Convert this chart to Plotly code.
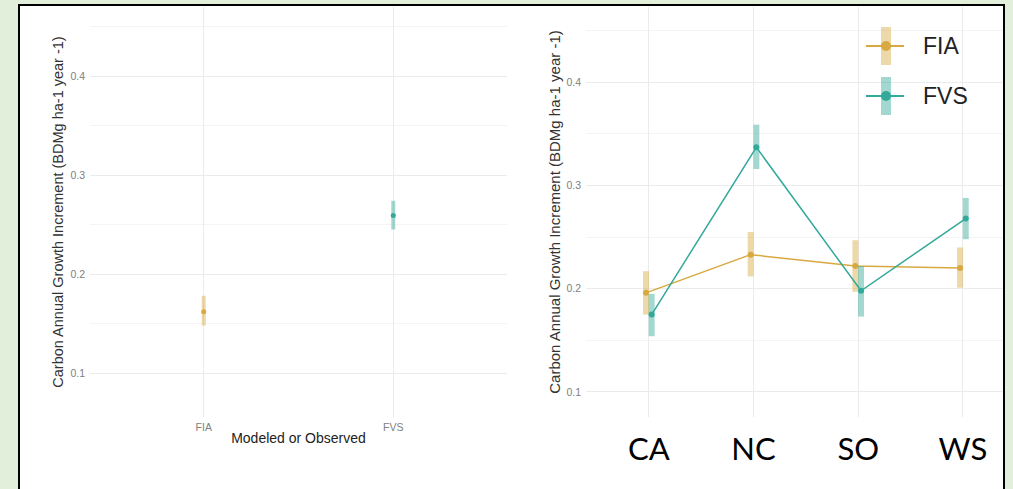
import plotly.graph_objects as go

W, H = 1013, 489

# ---- data ----
left_groups = ["FIA", "FVS"]
left_mean = [0.162, 0.259]
left_low = [0.148, 0.245]
left_high = [0.178, 0.274]

regions = ["CA", "NC", "SO", "WS"]
fia_mean = [0.196, 0.233, 0.222, 0.220]
fia_low = [0.175, 0.212, 0.197, 0.201]
fia_high = [0.217, 0.255, 0.247, 0.240]
fvs_mean = [0.175, 0.337, 0.198, 0.268]
fvs_low = [0.154, 0.316, 0.173, 0.248]
fvs_high = [0.195, 0.359, 0.222, 0.288]

y_ticks = [0.1, 0.2, 0.3, 0.4]
y_title = "Carbon Annual Growth Increment (BDMg ha-1 year -1)"

FIA_COL = "#D8A940"
FVS_COL = "#33A99A"
FIA_BAR = "rgba(216,169,64,0.45)"
FVS_BAR = "rgba(51,169,154,0.45)"

def px(x):
    return x / W

def py(y):
    return 1 - y / H

fig = go.Figure()

# ---- left panel ----
lx = [i + 1 for i in range(len(left_groups))]
for i, (g, col, bar) in enumerate([("FIA", FIA_COL, FIA_BAR), ("FVS", FVS_COL, FVS_BAR)]):
    fig.add_trace(go.Scatter(
        x=[lx[i]], y=[left_mean[i]], mode="markers",
        marker=dict(color=col, size=5),
        error_y=dict(type="data", symmetric=False,
                     array=[left_high[i] - left_mean[i]],
                     arrayminus=[left_mean[i] - left_low[i]],
                     color=bar, thickness=4, width=0),
        xaxis="x", yaxis="y", showlegend=False))

# ---- right panel ----
dodge = 0.027
rx = [i + 1 for i in range(len(regions))]
for name, mean, lo, hi, col, bar, d in [
    ("FIA", fia_mean, fia_low, fia_high, FIA_COL, FIA_BAR, -dodge),
    ("FVS", fvs_mean, fvs_low, fvs_high, FVS_COL, FVS_BAR, dodge),
]:
    fig.add_trace(go.Scatter(
        x=[v + d for v in rx], y=mean, mode="lines+markers", name=name,
        line=dict(color=col, width=1.5),
        marker=dict(color=col, size=6),
        error_y=dict(type="data", symmetric=False,
                     array=[h - m for h, m in zip(hi, mean)],
                     arrayminus=[m - l for m, l in zip(mean, lo)],
                     color=bar, thickness=6, width=0),
        xaxis="x2", yaxis="y2", showlegend=False))

ydom = [py(417), py(7)]
grid_major = "#EBEBEB"
grid_minor = "#F4F4F4"
tickfont = dict(family="Liberation Sans, Arial", size=10.5, color="#808080")

def yax(title_size, standoff):
    return dict(
        domain=ydom, tickvals=y_ticks, tickformat=".1f",
        showgrid=True, gridcolor=grid_major, gridwidth=1,
        minor=dict(tickvals=[0.15, 0.25, 0.35, 0.45], showgrid=True,
                   gridcolor=grid_minor, gridwidth=1, ticks=""),
        zeroline=False, showline=False, ticks="", tickfont=tickfont,
        ticklabelstandoff=4,
        title=dict(text=y_title,
                   font=dict(family="Liberation Sans, Arial", size=title_size, color="#333333"),
                   standoff=standoff),
    )

fig.update_layout(
    width=W, height=H,
    margin=dict(l=0, r=0, t=0, b=0),
    paper_bgcolor="#E2EFDA",
    plot_bgcolor="rgba(0,0,0,0)",
    xaxis=dict(domain=[px(90), px(507)], range=[0.4, 2.6],
               tickvals=lx, ticktext=left_groups,
               showgrid=True, gridcolor=grid_major, zeroline=False,
               ticks="", tickfont=tickfont, ticklabelstandoff=2,
               title=dict(text="Modeled or Observed",
                          font=dict(family="Liberation Sans, Arial", size=14, color="#222222"),
                          standoff=1)),
    yaxis=dict(range=[0.0556, 0.4697], anchor="x", **yax(14.5, 3)),
    xaxis2=dict(domain=[px(586), px(1003)], range=[0.4, 4.383],
                tickvals=rx, ticktext=regions,
                showgrid=True, gridcolor=grid_major, zeroline=False,
                ticks="", ticklabelstandoff=11,
                tickfont=dict(family="Lato, Carlito, sans-serif", size=31, color="#000000"),
                anchor="y2"),
    yaxis2=dict(range=[0.0757, 0.473], anchor="x2", **yax(15, 2)),
)

# white framed panel
fig.add_shape(type="rect", xref="paper", yref="paper",
              x0=px(19), x1=px(1004), y0=py(5), y1=py(492),
              fillcolor="white", line=dict(color="black", width=2), layer="below")

# manual legend
leg = [("FIA", FIA_COL, FIA_BAR, 46), ("FVS", FVS_COL, FVS_BAR, 96)]
for name, col, bar, yc in leg:
    fig.add_shape(type="rect", xref="paper", yref="paper",
                  x0=px(881), x1=px(891), y0=py(yc - 19), y1=py(yc + 19),
                  fillcolor=bar, line=dict(width=0))
    fig.add_shape(type="line", xref="paper", yref="paper",
                  x0=px(866), x1=px(904), y0=py(yc), y1=py(yc),
                  line=dict(color=col, width=2))
    fig.add_shape(type="circle", xref="paper", yref="paper",
                  x0=px(881), x1=px(891), y0=py(yc + 5), y1=py(yc - 5),
                  fillcolor=col, line=dict(width=0))
    fig.add_annotation(x=px(921), y=py(yc), xref="paper", yref="paper",
                       text=name, showarrow=False, xanchor="left", yanchor="middle",
                       font=dict(family="Liberation Sans, Arial", size=23, color="#222222"))

fig.write_html("out.html")
